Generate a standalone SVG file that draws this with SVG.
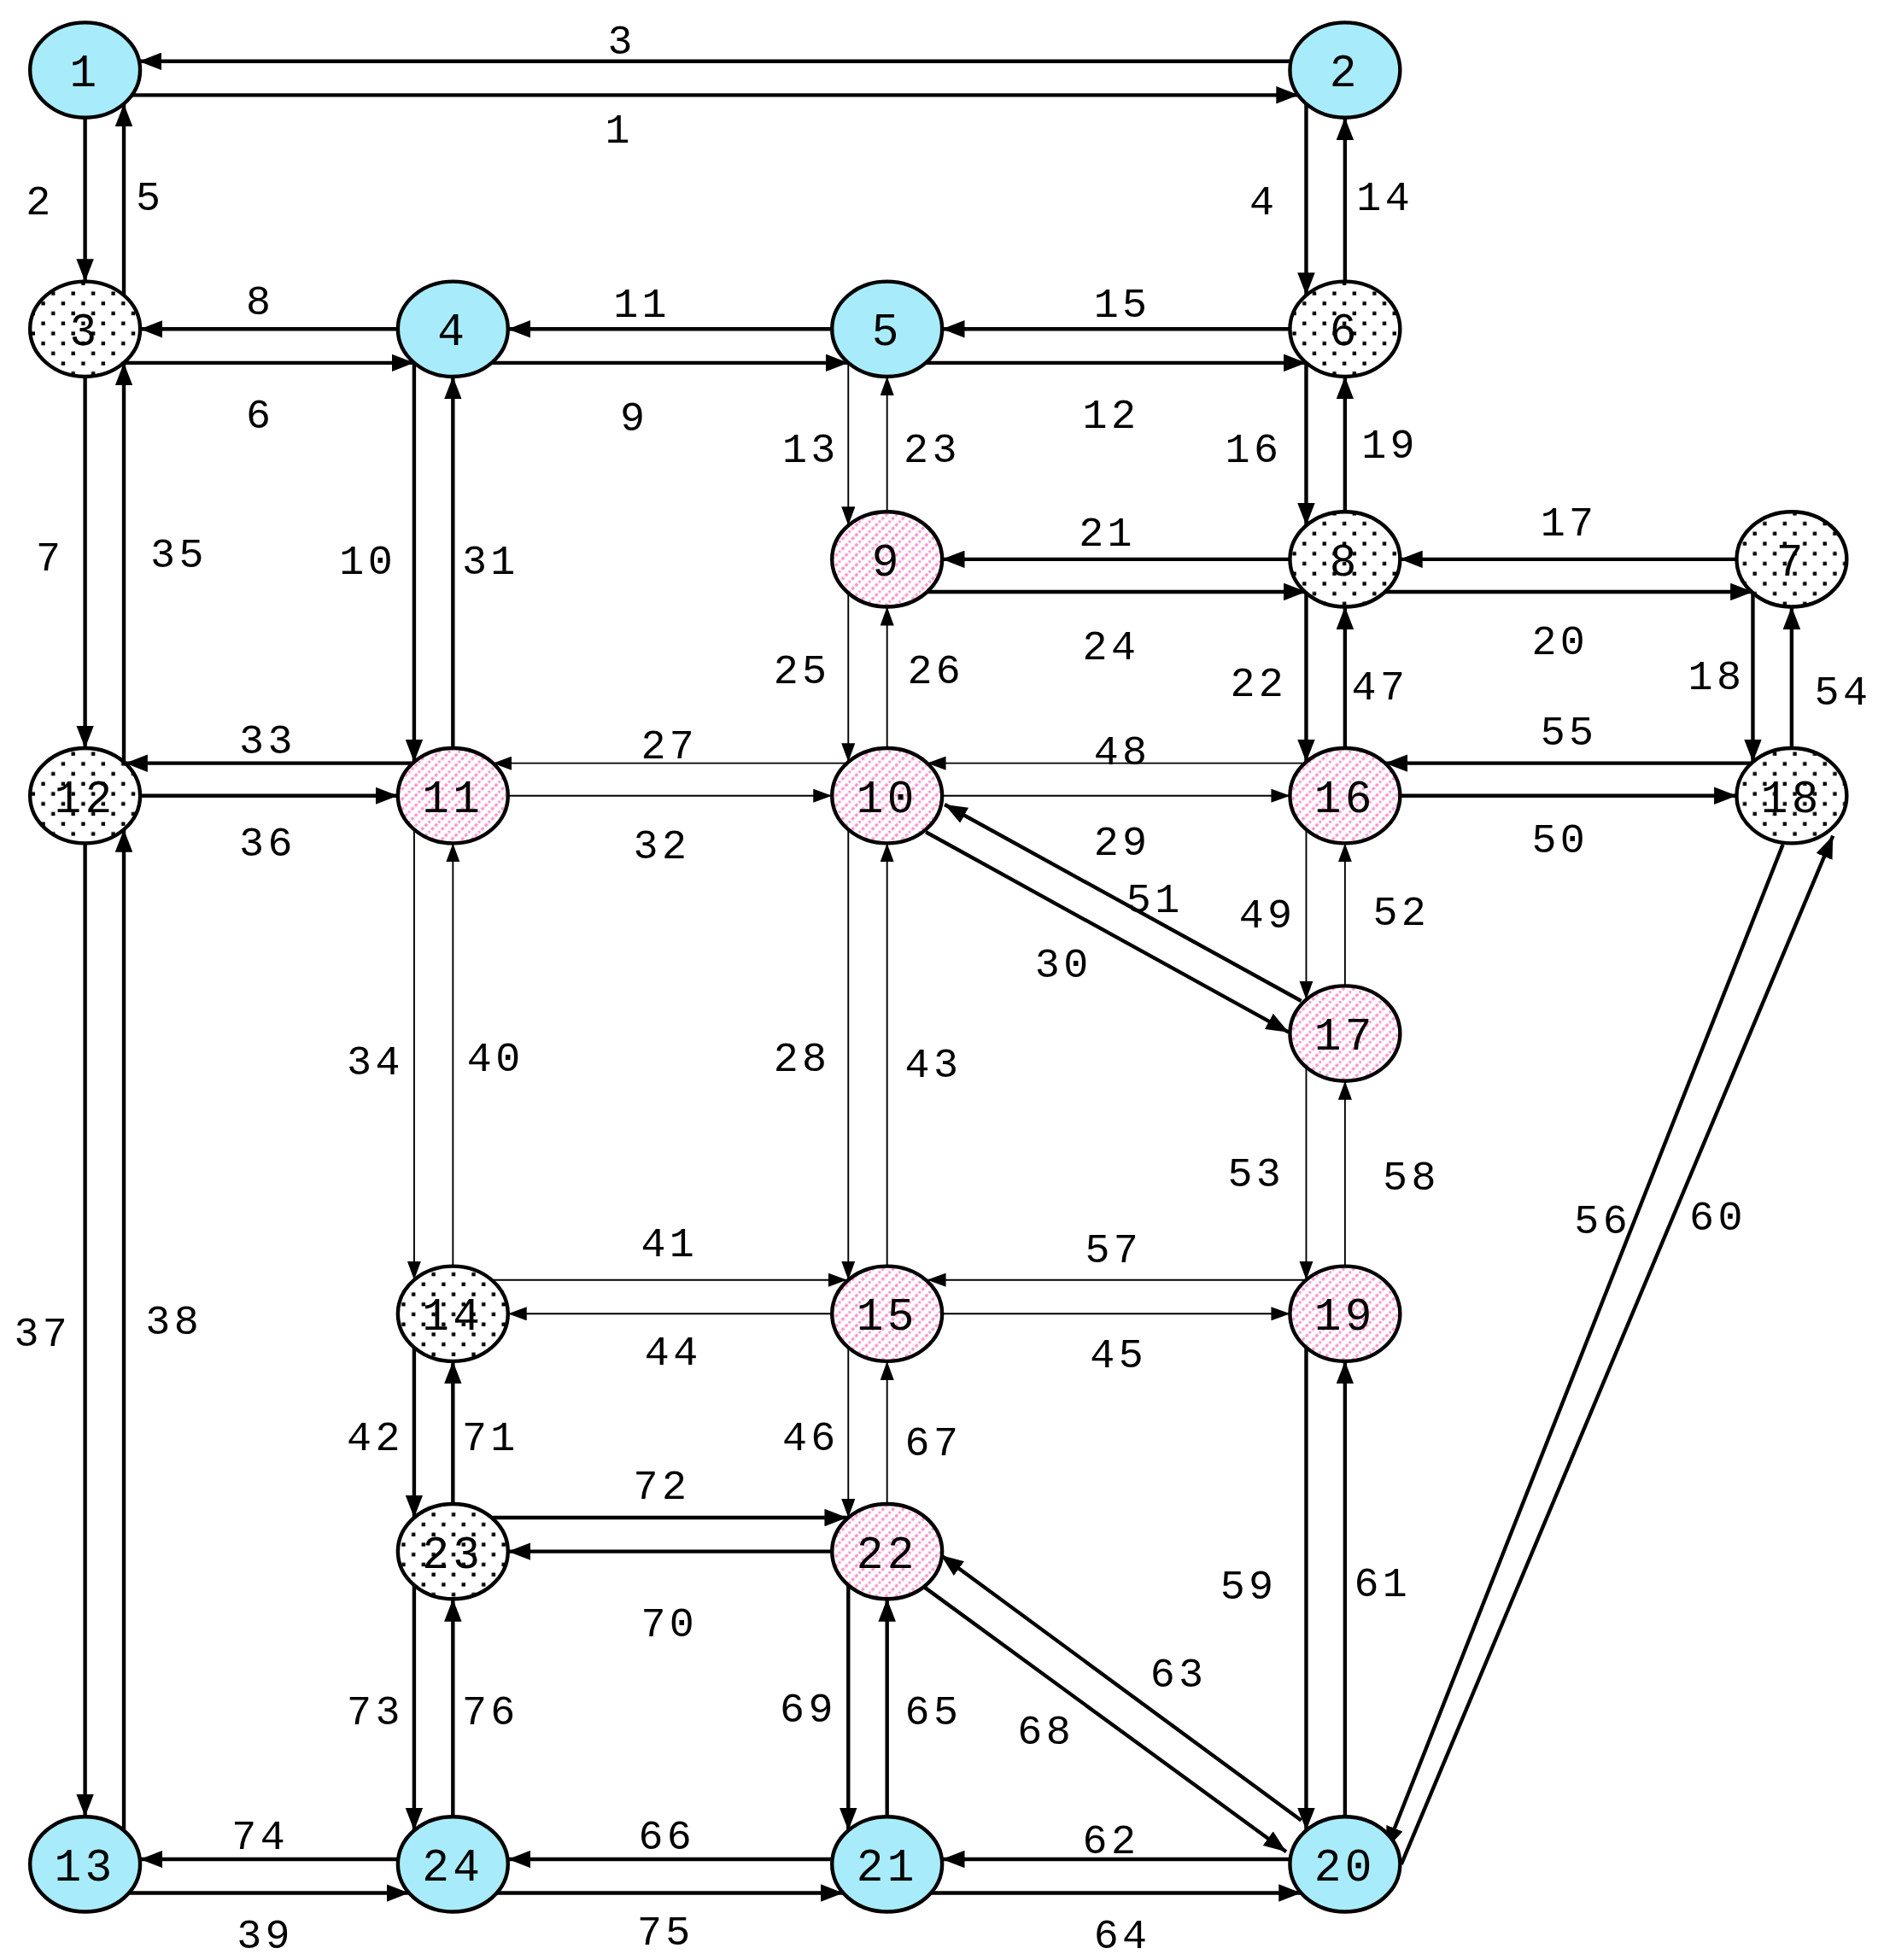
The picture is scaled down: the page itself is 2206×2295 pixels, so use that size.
<svg xmlns="http://www.w3.org/2000/svg" width="2206" height="2295" viewBox="0 0 2206 2295">
<defs>
<style>
.n{stroke:#000;stroke-width:3}
.b{fill:#a8ecfb}
.d{fill:url(#dots)}
.p{fill:url(#hatch)}
.e line{stroke:#000;stroke-width:3;marker-end:url(#ar)}
.e line.t{stroke-width:1.3;marker-end:url(#at)}
text{font-family:"Liberation Mono","DejaVu Sans Mono",monospace;font-size:33px;text-anchor:middle;fill:#000;letter-spacing:3px}
text.nl{font-size:36px}
</style>
<pattern id="dots" width="16" height="16" patternUnits="userSpaceOnUse">
<rect width="16" height="16" fill="#fff"/>
<rect x="1" y="1" width="3" height="3" fill="#000"/>
<rect x="9" y="9" width="3" height="3" fill="#000"/>
</pattern>
<pattern id="hatch" width="8" height="8" patternUnits="userSpaceOnUse">
<rect width="8" height="8" fill="#fff"/>
<path d="M-2,10 L10,-2" stroke="#ff8fcf" stroke-width="2.2" stroke-dasharray="2.5,1.5"/>
</pattern>
<marker id="ar" markerUnits="userSpaceOnUse" viewBox="0 0 18 14" refX="18" refY="7" markerWidth="18" markerHeight="14" orient="auto"><path d="M0,0 L18,7 L0,14 Z"/></marker>
<marker id="at" markerUnits="userSpaceOnUse" viewBox="0 0 15 11" refX="15" refY="5.5" markerWidth="15" markerHeight="11" orient="auto"><path d="M0,0 L15,5.5 L0,11 Z"/></marker>
</defs>
<rect width="2206" height="2295" fill="#fff"/>
<g transform="scale(1.465)">
<g id="connectors" class="e">
<line x1="1032" y1="49" x2="111" y2="49"/>
<line x1="105" y1="76" x2="1038" y2="76"/>
<line x1="318" y1="263" x2="112" y2="263"/>
<line x1="99" y1="290" x2="331" y2="290"/>
<line x1="665" y1="263" x2="406" y2="263"/>
<line x1="393" y1="290" x2="678" y2="290"/>
<line x1="1031" y1="263" x2="753" y2="263"/>
<line x1="740" y1="290" x2="1044" y2="290"/>
<line x1="1031" y1="447" x2="753" y2="447"/>
<line x1="740" y1="473" x2="1044" y2="473"/>
<line x1="1388" y1="447" x2="1119" y2="447"/>
<line x1="1106" y1="473" x2="1401" y2="473"/>
<line x1="330" y1="610" x2="100" y2="610"/>
<line class="t" x1="677" y1="610" x2="394" y2="610"/>
<line class="t" x1="1043" y1="610" x2="741" y2="610"/>
<line x1="1400" y1="610" x2="1107" y2="610"/>
<line x1="112" y1="636" x2="318" y2="636"/>
<line class="t" x1="406" y1="636" x2="665" y2="636"/>
<line class="t" x1="753" y1="636" x2="1031" y2="636"/>
<line x1="1119" y1="636" x2="1388" y2="636"/>
<line class="t" x1="394" y1="1023" x2="677" y2="1023"/>
<line class="t" x1="1043" y1="1023" x2="741" y2="1023"/>
<line class="t" x1="665" y1="1050" x2="406" y2="1050"/>
<line class="t" x1="753" y1="1050" x2="1031" y2="1050"/>
<line x1="394" y1="1213" x2="677" y2="1213"/>
<line x1="665" y1="1240" x2="406" y2="1240"/>
<line x1="318" y1="1486" x2="112" y2="1486"/>
<line x1="665" y1="1486" x2="406" y2="1486"/>
<line x1="1031" y1="1486" x2="753" y2="1486"/>
<line x1="103" y1="1513" x2="327" y2="1513"/>
<line x1="397" y1="1513" x2="674" y2="1513"/>
<line x1="744" y1="1513" x2="1040" y2="1513"/>
<line x1="68" y1="94" x2="68" y2="225"/>
<line x1="99" y1="236" x2="99" y2="83"/>
<line x1="1044" y1="83" x2="1044" y2="236"/>
<line x1="1075" y1="225" x2="1075" y2="94"/>
<line x1="331" y1="290" x2="331" y2="609"/>
<line x1="362" y1="598" x2="362" y2="301"/>
<line class="t" x1="678" y1="290" x2="678" y2="420"/>
<line class="t" x1="709" y1="409" x2="709" y2="301"/>
<line x1="1044" y1="290" x2="1044" y2="420"/>
<line x1="1075" y1="409" x2="1075" y2="301"/>
<line x1="68" y1="301" x2="68" y2="598"/>
<line x1="99" y1="609" x2="99" y2="290"/>
<line x1="1401" y1="474" x2="1401" y2="609"/>
<line x1="1432" y1="598" x2="1432" y2="485"/>
<line x1="1044" y1="474" x2="1044" y2="609"/>
<line x1="1075" y1="598" x2="1075" y2="485"/>
<line class="t" x1="678" y1="474" x2="678" y2="609"/>
<line class="t" x1="709" y1="598" x2="709" y2="485"/>
<line x1="68" y1="674" x2="68" y2="1452"/>
<line x1="99" y1="1463" x2="99" y2="663"/>
<line class="t" x1="331" y1="663" x2="331" y2="1023"/>
<line class="t" x1="362" y1="1012" x2="362" y2="674"/>
<line class="t" x1="678" y1="663" x2="678" y2="1023"/>
<line class="t" x1="709" y1="1012" x2="709" y2="674"/>
<line class="t" x1="1044" y1="663" x2="1044" y2="799"/>
<line class="t" x1="1075" y1="788" x2="1075" y2="674"/>
<line class="t" x1="1044" y1="853" x2="1044" y2="1023"/>
<line class="t" x1="1075" y1="1012" x2="1075" y2="864"/>
<line x1="331" y1="1077" x2="331" y2="1213"/>
<line x1="362" y1="1202" x2="362" y2="1088"/>
<line class="t" x1="678" y1="1077" x2="678" y2="1213"/>
<line class="t" x1="709" y1="1202" x2="709" y2="1088"/>
<line x1="331" y1="1267" x2="331" y2="1463"/>
<line x1="362" y1="1452" x2="362" y2="1278"/>
<line x1="678" y1="1267" x2="678" y2="1463"/>
<line x1="709" y1="1452" x2="709" y2="1278"/>
<line x1="1044" y1="1077" x2="1044" y2="1463"/>
<line x1="1075" y1="1452" x2="1075" y2="1088"/>
<line x1="1040" y1="800" x2="755" y2="643"/>
<line x1="740" y1="665" x2="1030" y2="825"/>
<line x1="1040" y1="1455" x2="752" y2="1243"/>
<line x1="738" y1="1268" x2="1028" y2="1480"/>
<line x1="1425" y1="675" x2="1108" y2="1478"/>
<line x1="1120" y1="1490" x2="1465" y2="668"/>
</g>
<g id="nodes">
<g id="n1"><ellipse class="n b" cx="68" cy="56" rx="44" ry="38"/><text class="nl" x="68" y="69">1</text></g>
<g id="n2"><ellipse class="n b" cx="1075" cy="56" rx="44" ry="38"/><text class="nl" x="1075" y="69">2</text></g>
<g id="n3"><ellipse class="n d" cx="68" cy="263" rx="44" ry="38"/><text class="nl" x="68" y="276">3</text></g>
<g id="n4"><ellipse class="n b" cx="362" cy="263" rx="44" ry="38"/><text class="nl" x="362" y="276">4</text></g>
<g id="n5"><ellipse class="n b" cx="709" cy="263" rx="44" ry="38"/><text class="nl" x="709" y="276">5</text></g>
<g id="n6"><ellipse class="n d" cx="1075" cy="263" rx="44" ry="38"/><text class="nl" x="1075" y="276">6</text></g>
<g id="n9"><ellipse class="n p" cx="709" cy="447" rx="44" ry="38"/><text class="nl" x="709" y="460">9</text></g>
<g id="n8"><ellipse class="n d" cx="1075" cy="447" rx="44" ry="38"/><text class="nl" x="1075" y="460">8</text></g>
<g id="n7"><ellipse class="n d" cx="1432" cy="447" rx="44" ry="38"/><text class="nl" x="1432" y="460">7</text></g>
<g id="n12"><ellipse class="n d" cx="68" cy="636" rx="44" ry="38"/><text class="nl" x="68" y="649">12</text></g>
<g id="n11"><ellipse class="n p" cx="362" cy="636" rx="44" ry="38"/><text class="nl" x="362" y="649">11</text></g>
<g id="n10"><ellipse class="n p" cx="709" cy="636" rx="44" ry="38"/><text class="nl" x="709" y="649">10</text></g>
<g id="n16"><ellipse class="n p" cx="1075" cy="636" rx="44" ry="38"/><text class="nl" x="1075" y="649">16</text></g>
<g id="n18"><ellipse class="n d" cx="1432" cy="636" rx="44" ry="38"/><text class="nl" x="1432" y="649">18</text></g>
<g id="n17"><ellipse class="n p" cx="1075" cy="826" rx="44" ry="38"/><text class="nl" x="1075" y="839">17</text></g>
<g id="n14"><ellipse class="n d" cx="362" cy="1050" rx="44" ry="38"/><text class="nl" x="362" y="1063">14</text></g>
<g id="n15"><ellipse class="n p" cx="709" cy="1050" rx="44" ry="38"/><text class="nl" x="709" y="1063">15</text></g>
<g id="n19"><ellipse class="n p" cx="1075" cy="1050" rx="44" ry="38"/><text class="nl" x="1075" y="1063">19</text></g>
<g id="n23"><ellipse class="n d" cx="362" cy="1240" rx="44" ry="38"/><text class="nl" x="362" y="1253">23</text></g>
<g id="n22"><ellipse class="n p" cx="709" cy="1240" rx="44" ry="38"/><text class="nl" x="709" y="1253">22</text></g>
<g id="n13"><ellipse class="n b" cx="68" cy="1490" rx="44" ry="38"/><text class="nl" x="68" y="1503">13</text></g>
<g id="n24"><ellipse class="n b" cx="362" cy="1490" rx="44" ry="38"/><text class="nl" x="362" y="1503">24</text></g>
<g id="n21"><ellipse class="n b" cx="709" cy="1490" rx="44" ry="38"/><text class="nl" x="709" y="1503">21</text></g>
<g id="n20"><ellipse class="n b" cx="1075" cy="1490" rx="44" ry="38"/><text class="nl" x="1075" y="1503">20</text></g>
</g>
<g id="labels" transform="translate(0,-10)">
<text x="497" y="53">3</text><text x="495" y="124">1</text><text x="32" y="181">2</text><text x="120" y="178">5</text>
<text x="1010" y="181">4</text><text x="1107" y="178">14</text><text x="208" y="261">8</text><text x="513" y="263">11</text>
<text x="897" y="263">15</text><text x="208" y="352">6</text><text x="507" y="354">9</text><text x="888" y="352">12</text>
<text x="648" y="379">13</text><text x="745" y="379">23</text><text x="1002" y="379">16</text><text x="1111" y="376">19</text>
<text x="40" y="466">7</text><text x="143" y="463">35</text><text x="294" y="469">10</text><text x="392" y="469">31</text>
<text x="885" y="446">21</text><text x="1254" y="438">17</text><text x="888" y="537">24</text><text x="1247" y="533">20</text>
<text x="641" y="556">25</text><text x="748" y="556">26</text><text x="1006" y="566">22</text><text x="1103" y="569">47</text>
<text x="1372" y="561">18</text><text x="1473" y="573">54</text><text x="214" y="612">33</text><text x="535" y="616">27</text>
<text x="897" y="621">48</text><text x="1254" y="605">55</text><text x="214" y="694">36</text><text x="529" y="696">32</text>
<text x="897" y="693">29</text><text x="1247" y="691">50</text><text x="923" y="739">51</text><text x="1013" y="751">49</text>
<text x="1120" y="749">52</text><text x="850" y="791">30</text><text x="300" y="869">34</text><text x="396" y="866">40</text>
<text x="641" y="866">28</text><text x="746" y="871">43</text><text x="1004" y="958">53</text><text x="1128" y="961">58</text>
<text x="1281" y="996">56</text><text x="1373" y="993">60</text><text x="535" y="1014">41</text><text x="890" y="1019">57</text>
<text x="34" y="1086">37</text><text x="139" y="1076">38</text><text x="538" y="1101">44</text><text x="894" y="1103">45</text>
<text x="300" y="1169">42</text><text x="392" y="1169">71</text><text x="648" y="1169">46</text><text x="746" y="1173">67</text>
<text x="529" y="1208">72</text><text x="998" y="1288">59</text><text x="1105" y="1286">61</text><text x="535" y="1318">70</text>
<text x="942" y="1358">63</text><text x="836" y="1404">68</text><text x="300" y="1388">73</text><text x="392" y="1388">76</text>
<text x="646" y="1386">69</text><text x="746" y="1388">65</text><text x="208" y="1488">74</text><text x="533" y="1488">66</text>
<text x="888" y="1491">62</text><text x="212" y="1567">39</text><text x="532" y="1564">75</text><text x="897" y="1567">64</text>
</g>
</g>
</svg>
